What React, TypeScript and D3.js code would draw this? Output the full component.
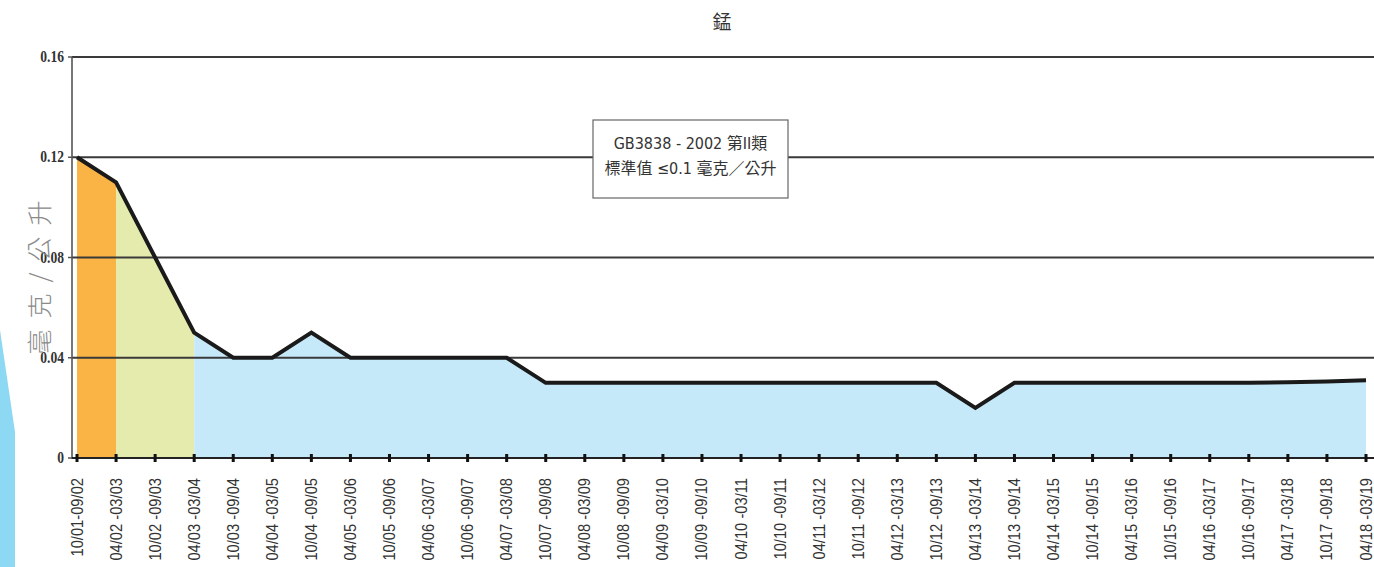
import React from "react";
import * as d3 from "d3";

const categories = [
  "10/01-09/02", "04/02 -03/03", "10/02 -09/03", "04/03 -03/04", "10/03 -09/04",
  "04/04 -03/05", "10/04 -09/05", "04/05 -03/06", "10/05 -09/06", "04/06 -03/07",
  "10/06 -09/07", "04/07 -03/08", "10/07 -09/08", "04/08 -03/09", "10/08 -09/09",
  "04/09 -03/10", "10/09 -09/10", "04/10 -03/11", "10/10 -09/11", "04/11 -03/12",
  "10/11 -09/12", "04/12 -03/13", "10/12 -09/13", "04/13 -03/14", "10/13 -09/14",
  "04/14 -03/15", "10/14 -09/15", "04/15 -03/16", "10/15 -09/16", "04/16 -03/17",
  "10/16 -09/17", "04/17 -03/18", "10/17 -09/18", "04/18 -03/19",
];

const values = [
  0.12, 0.11, 0.08, 0.05, 0.04, 0.04, 0.05, 0.04, 0.04, 0.04,
  0.04, 0.04, 0.03, 0.03, 0.03, 0.03, 0.03, 0.03, 0.03, 0.03,
  0.03, 0.03, 0.03, 0.02, 0.03, 0.03, 0.03, 0.03, 0.03, 0.03,
  0.03, 0.0302, 0.0305, 0.031,
];

const yTicks = [0, 0.04, 0.08, 0.12, 0.16];
const yTickLabels = ["0", "0.04", "0.08", "0.12", "0.16"];

// segments of coloured fill: [startIndex, endIndex, colour]
const segStart = [0, 1, 3];
const segEnd = [1, 3, 33];
const segColor = ["#F9B445", "#E5EBAC", "#C6E9FA"];

const title = "錳";
const yLabel = "毫克/公升";
const noteLines = ["GB3838 - 2002 第II類", "標準值 ≤0.1 毫克／公升"];

export default function App() {
  const W = 1374;
  const H = 567;
  const axisX = 72;
  const x = d3.scalePoint<string>().domain(categories).range([77, 1366]);
  const y = d3.scaleLinear().domain([0, 0.16]).range([458, 57]);

  const data = values.map((v, i) => ({ c: categories[i], v, i }));
  const line = d3
    .line<{ c: string; v: number; i: number }>()
    .x((d) => x(d.c) as number)
    .y((d) => y(d.v));
  const area = d3
    .area<{ c: string; v: number; i: number }>()
    .x((d) => x(d.c) as number)
    .y0(y(0))
    .y1((d) => y(d.v));

  const cjk = "'Noto Sans CJK TC', 'Noto Sans CJK SC', sans-serif";
  const lx = axisX - 8;

  return (
    <svg
      width={W}
      height={H}
      style={{ position: "absolute", left: 0, top: 0, background: "#fff" }}
    >
      {/* left decoration */}
      <polygon points="0,330 15,432 15,567 0,567" fill="#8DD8F2" />

      {/* title */}
      <text x={722} y={29} textAnchor="middle" fontSize={19} fontFamily={cjk} fill="#333">
        {title}
      </text>

      {/* area fills */}
      {segStart.map((s, k) => (
        <path
          key={"a" + k}
          d={area(data.slice(s, segEnd[k] + 1)) || ""}
          fill={segColor[k]}
        />
      ))}

      {/* grid lines */}
      {yTicks.slice(1).map((t) => (
        <line
          key={"g" + t}
          x1={axisX}
          x2={W}
          y1={y(t)}
          y2={y(t)}
          stroke="#3a3a3a"
          strokeWidth={1.8}
        />
      ))}

      {/* y axis */}
      <line x1={axisX} x2={axisX} y1={y(0.16)} y2={y(0) + 1} stroke="#555" strokeWidth={1.6} />
      {yTicks.map((t, i) => (
        <g key={"yt" + t}>
          <line x1={axisX - 4} x2={axisX} y1={y(t)} y2={y(t)} stroke="#555" strokeWidth={1.5} />
          <text
            transform={`translate(${lx}, ${y(t) + 5}) scale(0.8, 1)`}
            textAnchor="end"
            fontSize={17}
            fontWeight="bold"
            fontFamily="'Liberation Serif', 'DejaVu Serif', serif"
            fill="#333"
          >
            {yTickLabels[i]}
          </text>
        </g>
      ))}

      {/* y label */}
      <text
        transform={`translate(49, 272) rotate(-90)`}
        textAnchor="middle"
        fontSize={25}
        letterSpacing={11}
        fontFamily={cjk}
        fontWeight={300}
        fill="#8a8a8a"
      >
        {yLabel}
      </text>

      {/* data line */}
      <path d={line(data) || ""} fill="none" stroke="#1a1a1a" strokeWidth={4} strokeLinejoin="miter" />

      {/* x axis */}
      <line x1={axisX} x2={W} y1={y(0)} y2={y(0)} stroke="#222" strokeWidth={2} />
      {categories.map((c) => (
        <g key={"xt" + c}>
          <rect x={(x(c) as number) - 1.5} y={y(0) - 4} width={3} height={8} fill="#111" />
          <text
            transform={`translate(${(x(c) as number) + 5.5}, 478) rotate(-90) scale(0.92, 1)`}
            textAnchor="end"
            fontSize={16}
            fontFamily="'Liberation Sans', Arial, sans-serif"
            fill="#333"
          >
            {c}
          </text>
        </g>
      ))}

      {/* annotation box */}
      <rect x={593} y={120} width={195} height={78} fill="#fff" stroke="#666" strokeWidth={1.2} />
      {noteLines.map((t, i) => (
        <text
          key={"n" + i}
          x={690.5}
          y={149 + i * 25}
          textAnchor="middle"
          fontSize={16}
          fontFamily={"'DejaVu Sans Condensed', " + cjk}
          fill="#333"
        >
          {t}
        </text>
      ))}
    </svg>
  );
}
